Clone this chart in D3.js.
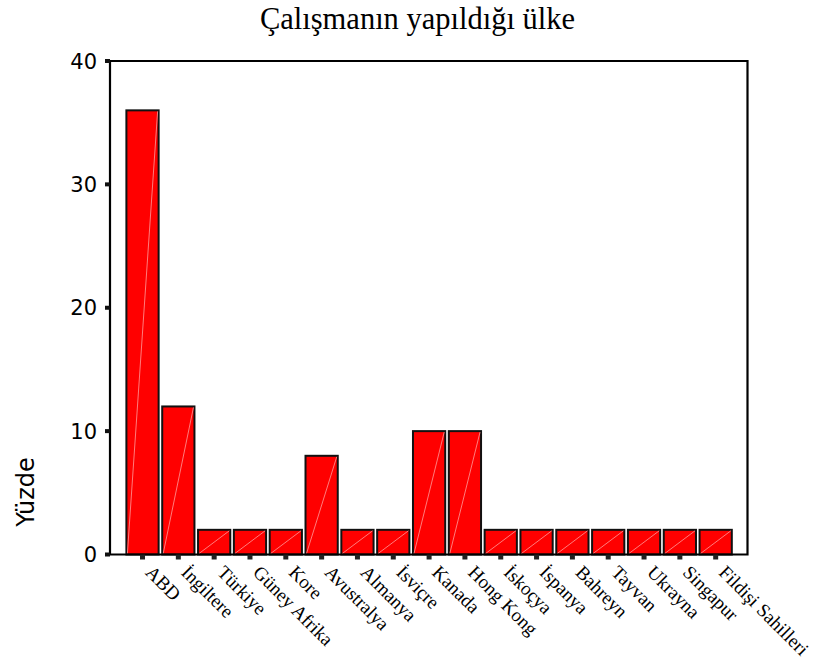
<!DOCTYPE html>
<html><head><meta charset="utf-8">
<script src="https://cdn.jsdelivr.net/npm/d3@7"></script>
<style>body{margin:0;background:#fff}svg{display:block}</style>
</head><body>
<svg id="chart" width="816" height="668"></svg>
<script>
const categories = ["ABD","İngiltere","Türkiye","Güney Afrika","Kore","Avustralya","Almanya","İsviçre","Kanada","Hong Kong","İskoçya","İspanya","Bahreyn","Tayvan","Ukrayna","Singapur","Fildişi Sahilleri"];
const values = [36,12,2,2,2,8,2,2,10,10,2,2,2,2,2,2,2];
const yTicks = [0,10,20,30,40];
const title = "Çalışmanın yapıldığı ülke";
const yLabel = "Yüzde";

(function(){
const svg = d3.select("#chart");
const pLeft = 110, pRight = 747.5, pTop = 61, pBottom = 554.5;

const x = d3.scaleBand().domain(categories).range([124.6, 733.6]).paddingInner(0.1).paddingOuter(0.05);
const y = d3.scaleLinear().domain([0,40]).range([pBottom, pTop]);

svg.append("text").attr("x", 417.5).attr("y", 29).attr("text-anchor","middle")
  .style("font-family","'Liberation Serif', serif").style("font-size","30.5px").text(title);

const data = categories.map((c,i)=>({c, v: values[i]}));
const g = svg.append("g");
g.selectAll("rect.bar").data(data).join("rect").attr("class","bar")
  .attr("x", d=>x(d.c)).attr("y", d=>y(d.v))
  .attr("width", x.bandwidth()).attr("height", d=>y(0)-y(d.v))
  .attr("fill","#ff0000").attr("stroke","#111").attr("stroke-width",2);
g.selectAll("line.diag").data(data).join("line").attr("class","diag")
  .attr("x1", d=>x(d.c)+1).attr("y1", y(0)-1)
  .attr("x2", d=>x(d.c)+x.bandwidth()-1).attr("y2", d=>y(d.v)+1)
  .attr("stroke","#ff9a9a").attr("stroke-width",0.8);

svg.append("path").attr("d",`M${pLeft},${pTop}H${pRight}V${pBottom}H${pLeft}Z`)
  .attr("fill","none").attr("stroke","#000").attr("stroke-width",2.2);

svg.selectAll("rect.yt").data(yTicks).join("rect").attr("class","yt")
  .attr("x", pLeft-5).attr("y", d=>y(d)-2).attr("width",5).attr("height",4).attr("fill","#111");
svg.selectAll("text.yl").data(yTicks).join("text").attr("class","yl")
  .attr("x", 97).attr("y", d=>y(d)).attr("dy","0.36em").attr("text-anchor","end")
  .style("font-family","'DejaVu Sans', sans-serif").style("font-size","21px").text(d=>d);

svg.selectAll("rect.xt").data(categories).join("rect").attr("class","xt")
  .attr("x", d=>x(d)+x.bandwidth()/2-2.5).attr("y", pBottom).attr("width",5).attr("height",5).attr("fill","#222");
svg.selectAll("text.xl").data(categories).join("text").attr("class","xl")
  .attr("transform", d=>`translate(${x(d)+x.bandwidth()/2+2},${pBottom+19}) rotate(45)`)
  .attr("text-anchor","start")
  .style("font-family","'Liberation Serif', serif").style("font-size","19px").text(d=>d);

svg.append("text").attr("transform",`translate(34,492) rotate(-90)`).attr("text-anchor","middle")
  .style("font-family","'DejaVu Sans', sans-serif").style("font-size","24px").text(yLabel);
})();
</script>
</body></html>
